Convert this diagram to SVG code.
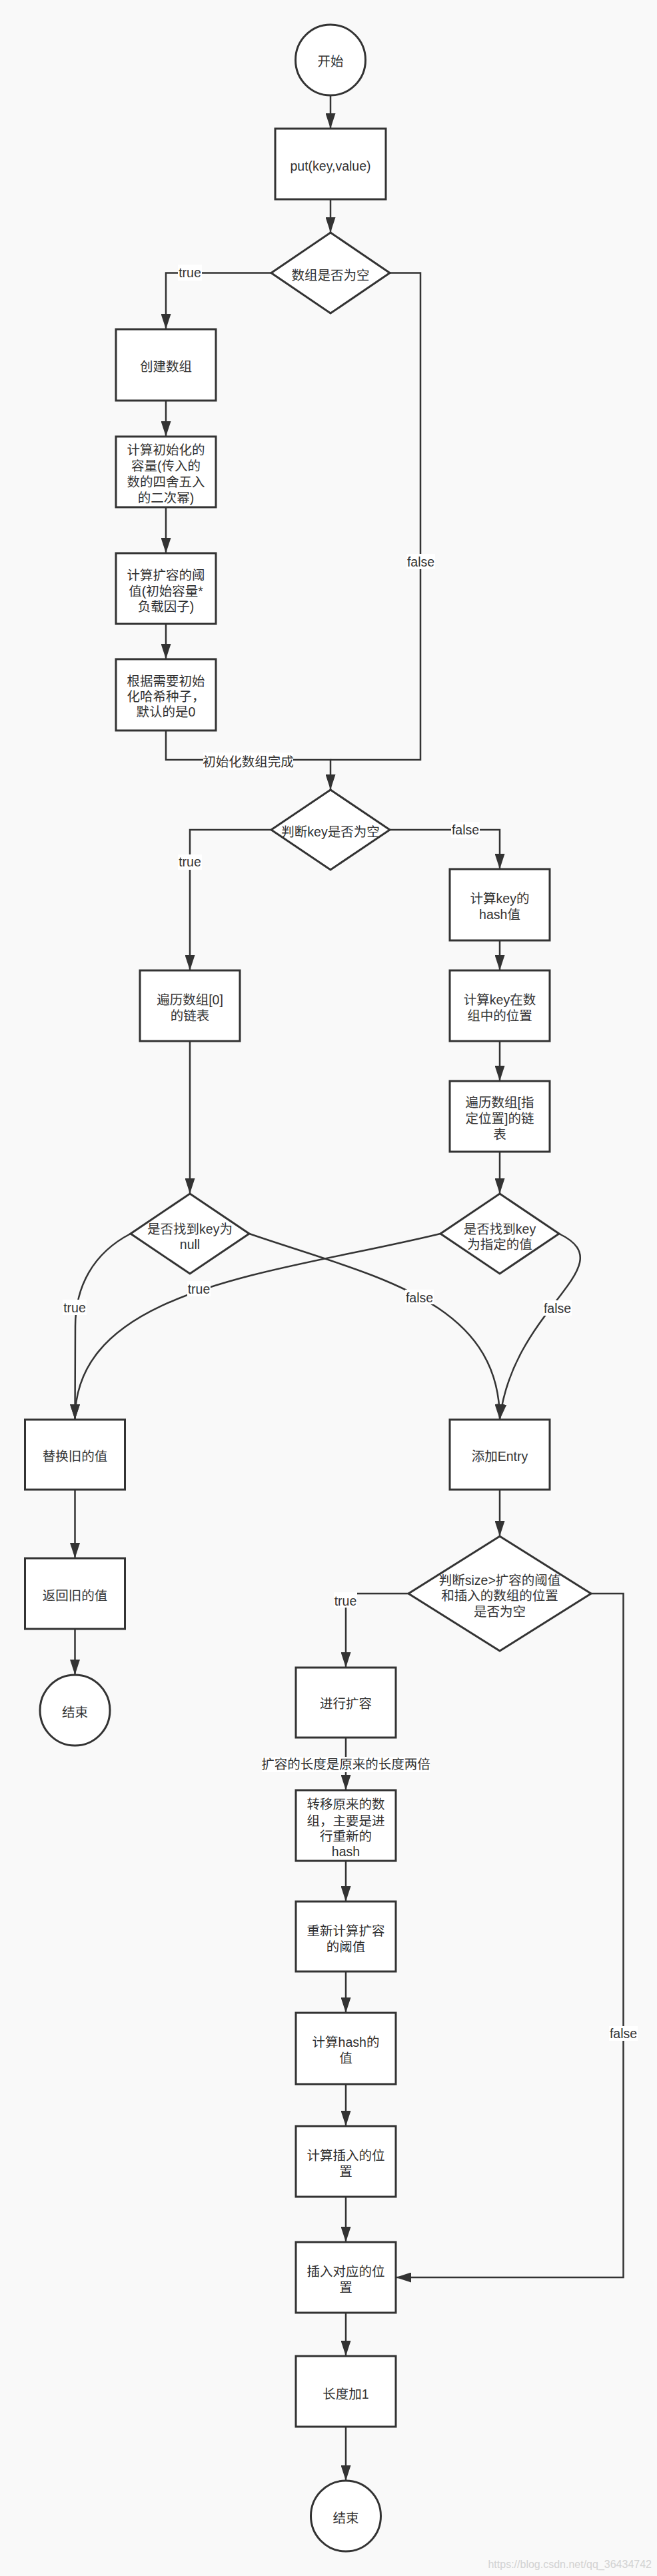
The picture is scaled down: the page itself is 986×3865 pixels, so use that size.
<svg xmlns="http://www.w3.org/2000/svg" width="986" height="3865" viewBox="0 0 986 3865">
<style>
.n{fill:#fff;stroke:#333;stroke-width:3}
.t{font-family:"Liberation Sans","Noto Sans CJK SC",sans-serif;font-size:19.5px;fill:#333;text-anchor:middle}
.c{fill:none;stroke:#333;stroke-width:2.5}
.lb{fill:#fff}
.wm{font-family:"Liberation Sans",sans-serif;font-size:16px;fill:#d2d2d2;text-anchor:end}
</style>
<defs>
<marker id="a" markerUnits="userSpaceOnUse" markerWidth="23" markerHeight="15" viewBox="0 0 23 15" refX="23" refY="7.5" orient="auto">
<path d="M0,0 L23,7.5 L0,15 z" fill="#333"/>
</marker>
</defs>
<rect x="0" y="0" width="986" height="3865" fill="#f9f9f9"/>

<g id="connectors">
<path class="c" d="M496,143 L496,193" marker-end="url(#a)"/>
<path class="c" d="M496,299 L496,349" marker-end="url(#a)"/>
<path class="c" d="M407,409.5 L249,409.5 L249,494" marker-end="url(#a)"/>
<path class="c" d="M249,601 L249,655" marker-end="url(#a)"/>
<path class="c" d="M249,761 L249,830" marker-end="url(#a)"/>
<path class="c" d="M249,936 L249,989" marker-end="url(#a)"/>
<path class="c" d="M585,409.5 L631,409.5 L631,1140 L496,1140"/>
<path class="c" d="M249,1096 L249,1140 L496,1140 L496,1185" marker-end="url(#a)"/>
<path class="c" d="M407,1245 L285,1245 L285,1456" marker-end="url(#a)"/>
<path class="c" d="M585,1245 L750,1245 L750,1304" marker-end="url(#a)"/>
<path class="c" d="M750,1411 L750,1456" marker-end="url(#a)"/>
<path class="c" d="M750,1562 L750,1622" marker-end="url(#a)"/>
<path class="c" d="M285,1562 L285,1791" marker-end="url(#a)"/>
<path class="c" d="M750,1728 L750,1791" marker-end="url(#a)"/>
<path class="c" d="M196,1851 C140,1880 113,1930 113,1990 L112.5,2130" marker-end="url(#a)"/>
<path class="c" d="M661,1851 C420,1910 112,1930 112.5,2130" marker-end="url(#a)"/>
<path class="c" d="M374,1851 C560,1915 750,1950 750,2130" marker-end="url(#a)"/>
<path class="c" d="M839,1851 C940,1900 770,1960 750,2130" marker-end="url(#a)"/>
<path class="c" d="M112.5,2235 L112.5,2338" marker-end="url(#a)"/>
<path class="c" d="M112.5,2444 L112.5,2513" marker-end="url(#a)"/>
<path class="c" d="M750,2235 L750,2305" marker-end="url(#a)"/>
<path class="c" d="M613,2391 L519,2391 L519,2502" marker-end="url(#a)"/>
<path class="c" d="M887,2391 L935.5,2391 L935.5,3417 L594,3417" marker-end="url(#a)"/>
<path class="c" d="M519,2607 L519,2686" marker-end="url(#a)"/>
<path class="c" d="M519,2792 L519,2853" marker-end="url(#a)"/>
<path class="c" d="M519,2958 L519,3020" marker-end="url(#a)"/>
<path class="c" d="M519,3127 L519,3190" marker-end="url(#a)"/>
<path class="c" d="M519,3296 L519,3364" marker-end="url(#a)"/>
<path class="c" d="M519,3470 L519,3535" marker-end="url(#a)"/>
<path class="c" d="M519,3641 L519,3722" marker-end="url(#a)"/>

<rect class="lb" x="267" y="397" width="36" height="24"/>
<text class="t" x="285" y="416">true</text>
<rect class="lb" x="610" y="831" width="43" height="23"/>
<text class="t" x="631.5" y="849.5">false</text>
<rect class="lb" x="305" y="1129" width="135" height="26"/>
<text class="t" x="372.5" y="1150">初始化数组完成</text>
<rect class="lb" x="267" y="1282" width="36" height="23"/>
<text class="t" x="285" y="1300">true</text>
<rect class="lb" x="677" y="1233" width="43" height="24"/>
<text class="t" x="698.5" y="1252">false</text>
<rect class="lb" x="94" y="1950" width="36" height="23"/>
<text class="t" x="112" y="1969">true</text>
<rect class="lb" x="281" y="1922" width="35" height="23"/>
<text class="t" x="298.5" y="1941">true</text>
<rect class="lb" x="608" y="1935" width="43" height="22"/>
<text class="t" x="629.5" y="1954">false</text>
<rect class="lb" x="815" y="1951" width="43" height="23"/>
<text class="t" x="836.5" y="1970">false</text>
<rect class="lb" x="501" y="2389" width="35" height="23"/>
<text class="t" x="518.5" y="2409">true</text>
<rect class="lb" x="393" y="2636" width="252" height="23"/>
<text class="t" x="519" y="2654">扩容的长度是原来的长度两倍</text>
<rect class="lb" x="914" y="3040" width="43" height="22"/>
<text class="t" x="935.5" y="3058">false</text>
</g>

<g id="start">
<ellipse class="n" cx="496" cy="90" rx="52.5" ry="53"/>
<text class="t" x="496" y="99">开始</text>
</g>
<g id="put">
<rect class="n" x="413" y="193" width="166" height="106"/>
<text class="t" x="496" y="256">put(key,value)</text>
</g>
<g id="d_array_empty">
<polygon class="n" points="496,349 585,409.5 496,470 407,409.5"/>
<text class="t" x="496" y="420">数组是否为空</text>
</g>
<g id="create_array">
<rect class="n" x="174" y="494" width="150" height="107"/>
<text class="t" x="249" y="557">创建数组</text>
</g>
<g id="calc_capacity">
<rect class="n" x="174" y="655" width="150" height="106"/>
<text class="t" x="249" y="682">计算初始化的</text>
<text class="t" x="249" y="706">容量(传入的</text>
<text class="t" x="249" y="730">数的四舍五入</text>
<text class="t" x="249" y="754">的二次幂)</text>
</g>
<g id="calc_threshold">
<rect class="n" x="174" y="830" width="150" height="106"/>
<text class="t" x="249" y="870">计算扩容的阈</text>
<text class="t" x="249" y="894">值(初始容量*</text>
<text class="t" x="249" y="917">负载因子)</text>
</g>
<g id="hash_seed">
<rect class="n" x="174" y="989" width="150" height="107"/>
<text class="t" x="249" y="1029">根据需要初始</text>
<text class="t" x="249" y="1052">化哈希种子，</text>
<text class="t" x="249" y="1075">默认的是0</text>
</g>
<g id="d_key_null">
<polygon class="n" points="496,1185 585,1245 496,1305 407,1245"/>
<text class="t" x="496" y="1255">判断key是否为空</text>
</g>
<g id="calc_hash">
<rect class="n" x="675" y="1304" width="150" height="107"/>
<text class="t" x="750" y="1355">计算key的</text>
<text class="t" x="750" y="1379">hash值</text>
</g>
<g id="calc_index">
<rect class="n" x="675" y="1456" width="150" height="106"/>
<text class="t" x="750" y="1507">计算key在数</text>
<text class="t" x="750" y="1531">组中的位置</text>
</g>
<g id="iter_zero">
<rect class="n" x="210" y="1456" width="150" height="106"/>
<text class="t" x="285" y="1507">遍历数组[0]</text>
<text class="t" x="285" y="1531">的链表</text>
</g>
<g id="iter_index">
<rect class="n" x="675" y="1622" width="150" height="106"/>
<text class="t" x="750" y="1661">遍历数组[指</text>
<text class="t" x="750" y="1685">定位置]的链</text>
<text class="t" x="750" y="1709">表</text>
</g>
<g id="d_found_null">
<polygon class="n" points="285,1791 374,1851 285,1911 196,1851"/>
<text class="t" x="285" y="1851">是否找到key为</text>
<text class="t" x="285" y="1874">null</text>
</g>
<g id="d_found_key">
<polygon class="n" points="750,1791 839,1851 750,1911 661,1851"/>
<text class="t" x="750" y="1851">是否找到key</text>
<text class="t" x="750" y="1874">为指定的值</text>
</g>
<g id="replace_old">
<rect class="n" x="37.5" y="2130" width="150" height="105"/>
<text class="t" x="112.5" y="2192">替换旧的值</text>
</g>
<g id="add_entry">
<rect class="n" x="675" y="2130" width="150" height="105"/>
<text class="t" x="750" y="2192">添加Entry</text>
</g>
<g id="return_old">
<rect class="n" x="37.5" y="2338" width="150" height="106"/>
<text class="t" x="112.5" y="2401">返回旧的值</text>
</g>
<g id="end_left">
<ellipse class="n" cx="112.5" cy="2566" rx="52.5" ry="53"/>
<text class="t" x="112.5" y="2576">结束</text>
</g>
<g id="d_resize">
<polygon class="n" points="750,2305 887,2391 750,2477 613,2391"/>
<text class="t" x="750" y="2378">判断size&gt;扩容的阈值</text>
<text class="t" x="750" y="2401">和插入的数组的位置</text>
<text class="t" x="750" y="2425">是否为空</text>
</g>
<g id="resize">
<rect class="n" x="444" y="2502" width="150" height="105"/>
<text class="t" x="519" y="2563">进行扩容</text>
</g>
<g id="transfer">
<rect class="n" x="444" y="2686" width="150" height="106"/>
<text class="t" x="519" y="2714">转移原来的数</text>
<text class="t" x="519" y="2739">组，主要是进</text>
<text class="t" x="519" y="2762">行重新的</text>
<text class="t" x="519" y="2785">hash</text>
</g>
<g id="recalc_threshold">
<rect class="n" x="444" y="2853" width="150" height="105"/>
<text class="t" x="519" y="2904">重新计算扩容</text>
<text class="t" x="519" y="2928">的阈值</text>
</g>
<g id="calc_hash2">
<rect class="n" x="444" y="3020" width="150" height="107"/>
<text class="t" x="519" y="3071">计算hash的</text>
<text class="t" x="519" y="3095">值</text>
</g>
<g id="calc_insert">
<rect class="n" x="444" y="3190" width="150" height="106"/>
<text class="t" x="519" y="3241">计算插入的位</text>
<text class="t" x="519" y="3265">置</text>
</g>
<g id="insert">
<rect class="n" x="444" y="3364" width="150" height="106"/>
<text class="t" x="519" y="3415">插入对应的位</text>
<text class="t" x="519" y="3439">置</text>
</g>
<g id="size_inc">
<rect class="n" x="444" y="3535" width="150" height="106"/>
<text class="t" x="519" y="3599">长度加1</text>
</g>
<g id="end_bottom">
<ellipse class="n" cx="519" cy="3775" rx="52.5" ry="53"/>
<text class="t" x="519" y="3785">结束</text>
</g>
<text class="wm" x="978" y="3853">https://blog.csdn.net/qq_36434742</text>
</svg>
